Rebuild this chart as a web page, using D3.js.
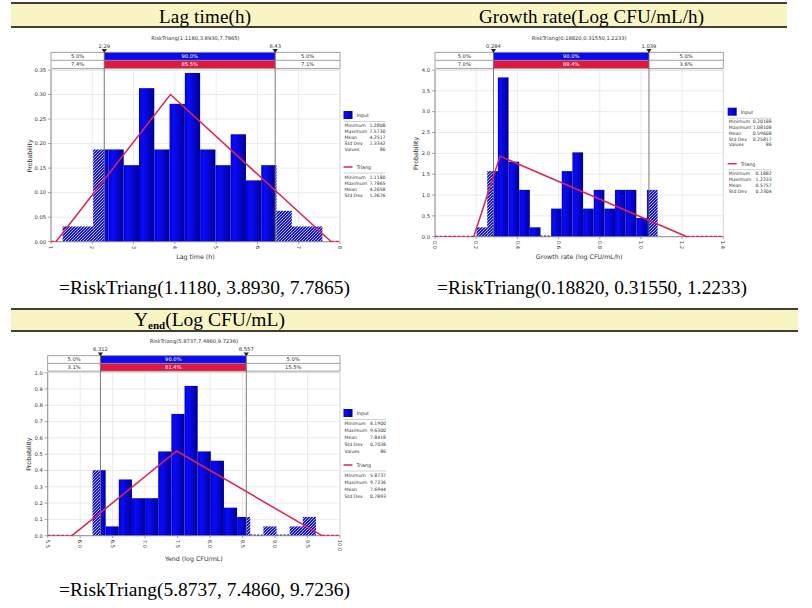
<!DOCTYPE html>
<html><head><meta charset="utf-8">
<script src="https://cdn.jsdelivr.net/npm/d3@7"></script>
<style>body{margin:0;background:#fff}svg{display:block}</style>
</head><body>
<svg id="c" width="812" height="608"></svg>
<script>
// ---------------- DATA ----------------
// Lag time
const lagDensity = [0.031,0.031,0.188,0.188,0.156,0.313,0.188,0.281,0.344,0.188,0.156,0.219,0.125,0.156,0.063,0.031,0.031];
const lagRange = [1.2808, 7.5730];
const lagTri = [1.1180, 3.8930, 7.7865];
const lagDelims = [2.29, 6.43];
const lagDelimLabels = ["2.29", "6.43"];
const lagPctTop = ["5.0%", "90.0%", "5.0%"];
const lagPctBottom = ["7.4%", "85.5%", "7.1%"];
const lagXTicks = [1,2,3,4,5,6,7,8];
const lagYTicks = [0,0.05,0.10,0.15,0.20,0.25,0.30,0.35];
const lagInputStats = [["Minimum","1.2808"],["Maximum","7.5730"],["Mean","4.2517"],["Std Dev","1.3342"],["Values","86"]];
const lagTriStats = [["Minimum","1.1180"],["Maximum","7.7865"],["Mean","4.2658"],["Std Dev","1.3676"]];

// Growth rate
const grDensity = [0.225,1.574,3.822,1.799,1.124,0.225,0,0.674,1.574,2.024,0.674,1.124,0.674,1.124,1.124,0.450,1.124];
const grRange = [0.20188, 1.08108];
const grTri = [0.18820, 0.31550, 1.2233];
const grDelims = [0.284, 1.039];
const grDelimLabels = ["0.284", "1.039"];
const grPctTop = ["5.0%", "90.0%", "5.0%"];
const grPctBottom = ["7.0%", "89.4%", "3.6%"];
const grXTicks = [0,0.2,0.4,0.6,0.8,1.0,1.2,1.4];
const grYTicks = [0,0.5,1.0,1.5,2.0,2.5,3.0,3.5,4.0];
const grInputStats = [["Minimum","0.20188"],["Maximum","1.08108"],["Mean","0.59608"],["Std Dev","0.25817"],["Values","86"]];
const grTriStats = [["Minimum","0.1882"],["Maximum","1.2233"],["Mean","0.5757"],["Std Dev","0.2304"]];

// Yend
const yeDensity = [0.402,0.057,0.345,0.230,0.230,0.517,0.747,0.919,0.517,0.460,0.172,0.115,0,0.057,0,0.057,0.115];
const yeRange = [6.1900, 9.6300];
const yeTri = [5.8737, 7.4860, 9.7236];
const yeDelims = [6.312, 8.557];
const yeDelimLabels = ["6.312", "8.557"];
const yePctTop = ["5.0%", "90.0%", "5.0%"];
const yePctBottom = ["3.1%", "81.4%", "15.5%"];
const yeXTicks = [5.5,6.0,6.5,7.0,7.5,8.0,8.5,9.0,9.5,10.0];
const yeYTicks = [0,0.1,0.2,0.3,0.4,0.5,0.6,0.7,0.8,0.9,1.0];
const yeInputStats = [["Minimum","6.1900"],["Maximum","9.6300"],["Mean","7.8418"],["Std Dev","0.7038"],["Values","86"]];
const yeTriStats = [["Minimum","5.8737"],["Maximum","9.7236"],["Mean","7.6944"],["Std Dev","0.7893"]];

// Text
const headers = ["Lag time(h)", "Growth rate(Log CFU/mL/h)"];
const formulas = ["=RiskTriang(1.1180, 3.8930, 7.7865)", "=RiskTriang(0.18820, 0.31550, 1.2233)", "=RiskTriang(5.8737, 7.4860, 9.7236)"];

// ---------------- DRAW ----------------
const svg = d3.select("#c");
const SMALL = "'DejaVu Sans', Verdana, sans-serif";
const SERIF = "'Liberation Serif', 'DejaVu Serif', serif";
const BLUE = "#0b0bef", RED = "#e2173f", TRI = "#e0234f";

const defs = svg.append("defs");
const g1 = defs.append("linearGradient").attr("id","barGrad").attr("x1","0").attr("x2","1").attr("y1","0").attr("y2","0");
g1.append("stop").attr("offset","0").attr("stop-color","#0000d8");
g1.append("stop").attr("offset","0.25").attr("stop-color","#0a0aff");
g1.append("stop").attr("offset","1").attr("stop-color","#000092");
const pat = defs.append("pattern").attr("id","hatch").attr("patternUnits","userSpaceOnUse").attr("width",3).attr("height",3);
pat.append("rect").attr("width",3).attr("height",3).attr("fill","#1c1cc4");
pat.append("path").attr("d","M0,3 L3,0 M-1,1 L1,-1 M2,4 L4,2").attr("stroke","#ffffff").attr("stroke-width",0.75).attr("stroke-opacity",0.85);

// Header bands
function band(x0, x1, y0, y1) {
  svg.append("rect").attr("x",x0).attr("y",y0).attr("width",x1-x0).attr("height",y1-y0).attr("fill","#f8f5c3");
  svg.append("line").attr("x1",x0).attr("x2",x1).attr("y1",y0).attr("y2",y0).attr("stroke","#000").attr("stroke-width",1.6);
  svg.append("line").attr("x1",x0).attr("x2",x1).attr("y1",y1).attr("y2",y1).attr("stroke","#000").attr("stroke-width",1.4);
}
band(11, 400, 3, 27);
band(400, 787, 3, 27);
band(11, 798, 309, 331);

svg.append("text").attr("x",205).attr("y",22.5).attr("text-anchor","middle").attr("font-family",SERIF)
  .attr("font-size",19).attr("textLength",92).text(headers[0]);
svg.append("text").attr("x",591.5).attr("y",22.5).attr("text-anchor","middle").attr("font-family",SERIF)
  .attr("font-size",19).attr("textLength",225).text(headers[1]);
const yh = svg.append("text").attr("x",134).attr("y",326).attr("font-family",SERIF).attr("font-size",19.5);
yh.append("tspan").text("Y");
yh.append("tspan").attr("font-size",11).attr("font-weight","bold").attr("dy",3).text("end");
yh.append("tspan").attr("dy",-3).text("(Log  CFU/mL)");

// Formulas
function formula(x0, x1, y, t) {
  svg.append("text").attr("x",x0).attr("y",y).attr("font-family",SERIF).attr("font-size",18.5)
    .attr("textLength",x1-x0).attr("lengthAdjust","spacingAndGlyphs").text(t);
}
formula(59, 350, 294, formulas[0]);
formula(437, 747, 294, formulas[1]);
formula(59, 350, 595.5, formulas[2]);

function panel(c) {
  const [px0, px1, py0, py1] = c.plot; // left,right,top,bottom
  const x = d3.scaleLinear().domain(c.xDomain).range([px0, px1]);
  const y = d3.scaleLinear().domain(c.yDomain).range([py1, py0]);
  const g = svg.append("g");

  // gridlines
  g.selectAll(".vg").data(c.xTicks).join("line").attr("x1",d=>x(d)).attr("x2",d=>x(d)).attr("y1",py0).attr("y2",py1)
    .attr("stroke","#e6e6e6").attr("stroke-width",0.8);
  g.selectAll(".hg").data(c.yTicks).join("line").attr("x1",px0).attr("x2",px1).attr("y1",d=>y(d)).attr("y2",d=>y(d))
    .attr("stroke","#e6e6e6").attr("stroke-width",0.8);
  g.append("rect").attr("x",px0).attr("y",py0).attr("width",px1-px0).attr("height",py1-py0)
    .attr("fill","none").attr("stroke","#d8d8d8").attr("stroke-width",0.8);

  // histogram bars
  const n = c.density.length;
  const w = (c.range[1]-c.range[0])/n;
  const [d0, d1] = c.delims;
  const segs = [];
  c.density.forEach((h, i) => {
    const a = c.range[0] + i*w, b = a + w;
    if (h === 0) { segs.push({a, b, h, kind:"zero"}); return; }
    if (a < d0) segs.push({a, b: Math.min(b, d0), h, kind:"hatch"});
    const sa = Math.max(a, d0), sb = Math.min(b, d1);
    if (sb > sa) segs.push({a: sa, b: sb, h, kind:"solid"});
    if (b > d1) segs.push({a: Math.max(a, d1), b, h, kind:"hatch"});
  });
  g.selectAll(".bar").data(segs.filter(s=>s.kind!=="zero")).join("rect")
    .attr("x",s=>x(s.a)).attr("width",s=>x(s.b)-x(s.a)).attr("y",s=>y(s.h)).attr("height",s=>y(0)-y(s.h))
    .attr("fill",s=>s.kind==="solid"?"url(#barGrad)":"url(#hatch)");
  g.selectAll(".zb").data(segs.filter(s=>s.kind==="zero")).join("line")
    .attr("x1",s=>x(s.a)).attr("x2",s=>x(s.b)).attr("y1",y(0)-0.5).attr("y2",y(0)-0.5)
    .attr("stroke","#00008a").attr("stroke-width",1.2).attr("stroke-dasharray","2,1.5");

  // axes lines
  g.append("line").attr("x1",px0).attr("x2",px0).attr("y1",py0).attr("y2",py1).attr("stroke","#8a8a8a").attr("stroke-width",0.9);
  g.append("line").attr("x1",px0).attr("x2",px1).attr("y1",py1).attr("y2",py1).attr("stroke","#8a8a8a").attr("stroke-width",0.9);

  // delimiter box
  const bt = c.boxTop, rh = c.rowH;
  const bx0 = px0, bx1 = px1;
  const xd0 = x(d0), xd1 = x(d1);
  g.append("rect").attr("x",xd0).attr("y",bt).attr("width",xd1-xd0).attr("height",rh).attr("fill",BLUE);
  g.append("rect").attr("x",xd0).attr("y",bt+rh).attr("width",xd1-xd0).attr("height",rh).attr("fill",RED);
  g.append("rect").attr("x",bx0).attr("y",bt).attr("width",bx1-bx0).attr("height",2*rh).attr("fill","none").attr("stroke","#8a8a8a").attr("stroke-width",0.8);
  g.append("line").attr("x1",bx0).attr("x2",bx1).attr("y1",bt+rh).attr("y2",bt+rh).attr("stroke","#8a8a8a").attr("stroke-width",0.8);
  const cx = [(bx0+xd0)/2, (xd0+xd1)/2, (xd1+bx1)/2];
  [c.pctTop, c.pctBottom].forEach((row, r) => {
    row.forEach((t, k) => {
      g.append("text").attr("x",cx[k]).attr("y",bt + r*rh + rh/2 + 1.8).attr("text-anchor","middle")
        .attr("font-family",SMALL).attr("font-size",5.2).attr("fill",k===1?"#fff":"#333").text(t);
    });
  });
  // delimiter vertical lines
  [xd0, xd1].forEach(xx => {
    g.append("line").attr("x1",xx).attr("x2",xx).attr("y1",bt).attr("y2",py1).attr("stroke","#6a6a6a").attr("stroke-width",0.9);
    g.append("path").attr("d",`M${xx-2.6},${bt-3.2}L${xx+2.6},${bt-3.2}L${xx},${bt+0.6}Z`).attr("fill","#222");
  });
  c.delimLabels.forEach((t, k) => {
    g.append("text").attr("x",x(c.delims[k])).attr("y",c.delimLabelY).attr("text-anchor","middle")
      .attr("font-family",SMALL).attr("font-size",5.2).attr("fill","#333").text(t);
  });
  // title
  g.append("text").attr("x",(px0+px1)/2).attr("y",c.titleY).attr("text-anchor","middle")
    .attr("font-family",SMALL).attr("font-size",5.2).attr("fill","#333").text(c.title);

  // triangle distribution
  const [tmin, tmode, tmax] = c.tri;
  const peak = 2/(tmax-tmin);
  g.append("path").attr("d",d3.line()([[x(tmin),y(0)],[x(tmode),y(peak)],[x(tmax),y(0)]]))
    .attr("fill","none").attr("stroke",TRI).attr("stroke-width",1.5).attr("stroke-linejoin","miter");
  [[c.xDomain[0], tmin],[tmax, c.xDomain[1]]].forEach(([a,b]) => {
    g.append("line").attr("x1",x(a)).attr("x2",x(b)).attr("y1",y(0)-0.3).attr("y2",y(0)-0.3)
      .attr("stroke",TRI).attr("stroke-width",1.2).attr("stroke-dasharray","3,1.5");
  });

  // ticks & labels
  g.selectAll(".yt").data(c.yTicks).join("line").attr("x1",px0-3).attr("x2",px0).attr("y1",d=>y(d)).attr("y2",d=>y(d)).attr("stroke","#8a8a8a").attr("stroke-width",0.8);
  g.selectAll(".yl").data(c.yTicks).join("text").attr("x",px0-5).attr("y",d=>y(d)+1.8).attr("text-anchor","end")
    .attr("font-family",SMALL).attr("font-size",5.2).attr("fill","#333").text(d3.format(c.yFmt));
  g.selectAll(".xt").data(c.xTicks).join("line").attr("x1",d=>x(d)).attr("x2",d=>x(d)).attr("y1",py1).attr("y2",py1+2.5).attr("stroke","#8a8a8a").attr("stroke-width",0.8);
  g.selectAll(".xl").data(c.xTicks).join("text")
    .attr("transform",d=>`translate(${x(d)},${py1+4}) rotate(90)`).attr("dy","0.35em")
    .attr("font-family",SMALL).attr("font-size",5.2).attr("fill","#333").text(d3.format(c.xFmt));
  g.append("text").attr("x",(px0+px1)/2).attr("y",c.xTitleY).attr("text-anchor","middle")
    .attr("font-family",SMALL).attr("font-size",6.3).attr("fill","#333").text(c.xTitle);
  g.append("text").attr("transform",`translate(${c.yTitleX},${(py0+py1)/2}) rotate(-90)`).attr("text-anchor","middle").attr("dy","0.35em")
    .attr("font-family",SMALL).attr("font-size",6.3).attr("fill","#333").text("Probability");

  // legend
  const lx = c.legend[0], ly = c.legend[1], lw = c.legendW, sp = c.rowSp;
  g.append("rect").attr("x",lx).attr("y",ly).attr("width",9).attr("height",8).attr("fill","url(#barGrad)");
  g.append("text").attr("x",lx+13).attr("y",ly+6).attr("font-family",SMALL).attr("font-size",4.8).attr("fill","#333").text("Input");
  g.append("line").attr("x1",lx).attr("x2",lx+lw).attr("y1",ly+10.5).attr("y2",ly+10.5).attr("stroke","#bdbdbd").attr("stroke-width",0.7);
  c.inputStats.forEach((r, i) => {
    const yy = ly + 15.5 + i*sp;
    g.append("text").attr("x",lx+1).attr("y",yy).attr("font-family",SMALL).attr("font-size",4.6).attr("fill","#333").text(r[0]);
    g.append("text").attr("x",lx+lw).attr("y",yy).attr("text-anchor","end").attr("font-family",SMALL).attr("font-size",4.6).attr("fill","#333").text(r[1]);
  });
  const ty = ly + 56;
  g.append("line").attr("x1",lx).attr("x2",lx+9).attr("y1",ty).attr("y2",ty).attr("stroke",TRI).attr("stroke-width",1.5);
  g.append("text").attr("x",lx+13).attr("y",ty+1.8).attr("font-family",SMALL).attr("font-size",4.8).attr("fill","#333").text("Triang");
  g.append("line").attr("x1",lx).attr("x2",lx+lw).attr("y1",ty+6).attr("y2",ty+6).attr("stroke","#bdbdbd").attr("stroke-width",0.7);
  c.triStats.forEach((r, i) => {
    const yy = ty + 11.5 + i*sp;
    g.append("text").attr("x",lx+1).attr("y",yy).attr("font-family",SMALL).attr("font-size",4.6).attr("fill","#333").text(r[0]);
    g.append("text").attr("x",lx+lw).attr("y",yy).attr("text-anchor","end").attr("font-family",SMALL).attr("font-size",4.6).attr("fill","#333").text(r[1]);
  });
}

panel({plot:[51,340,70,241.7], xDomain:[1,8], yDomain:[0,0.35], xTicks:lagXTicks, yTicks:lagYTicks, xFmt:"d", yFmt:".2f",
  density:lagDensity, range:lagRange, tri:lagTri, delims:lagDelims, delimLabels:lagDelimLabels,
  pctTop:lagPctTop, pctBottom:lagPctBottom, title:"RiskTriang(1.1180,3.8930,7.7865)", titleY:40, delimLabelY:48.3,
  boxTop:52.3, rowH:8, xTitle:"Lag time (h)", xTitleY:258.8, yTitleX:30,
  legend:[343.5,111], legendW:42, rowSp:6, inputStats:lagInputStats, triStats:lagTriStats});

panel({plot:[435,723.3,70,236.7], xDomain:[0,1.4], yDomain:[0,4], xTicks:grXTicks, yTicks:grYTicks, xFmt:".1f", yFmt:".1f",
  density:grDensity, range:grRange, tri:grTri, delims:grDelims, delimLabels:grDelimLabels,
  pctTop:grPctTop, pctBottom:grPctBottom, title:"RiskTriang(0.18820,0.31550,1.2233)", titleY:40, delimLabelY:48.3,
  boxTop:52.3, rowH:8, xTitle:"Growth rate (log CFU/mL/h)", xTitleY:258.8, yTitleX:416,
  legend:[727.7,107.7], legendW:44, rowSp:5.8, inputStats:grInputStats, triStats:grTriStats});

panel({plot:[47.7,340,372.7,535.7], xDomain:[5.5,10], yDomain:[0,1], xTicks:yeXTicks, yTicks:yeYTicks, xFmt:".1f", yFmt:".1f",
  density:yeDensity, range:yeRange, tri:yeTri, delims:yeDelims, delimLabels:yeDelimLabels,
  pctTop:yePctTop, pctBottom:yePctBottom, title:"RiskTriang(5.8737,7.4860,9.7236)", titleY:342.5, delimLabelY:351,
  boxTop:355.7, rowH:7.7, xTitle:"Yend (log CFU/mL)", xTitleY:560.5, yTitleX:29,
  legend:[343.5,409], legendW:42.5, rowSp:7, inputStats:yeInputStats, triStats:yeTriStats});
</script>
</body></html>
